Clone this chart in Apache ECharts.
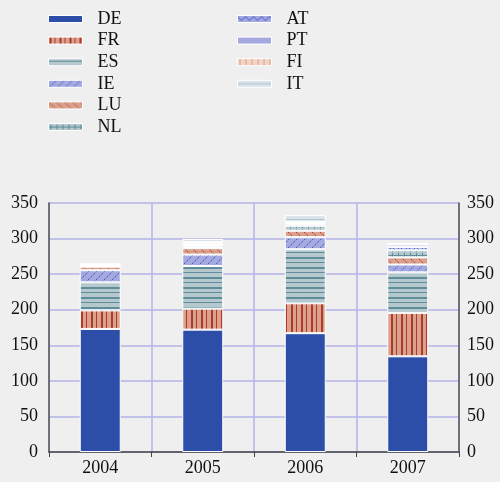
<!DOCTYPE html>
<html><head><meta charset="utf-8">
<script src="https://cdn.jsdelivr.net/npm/echarts@6/dist/echarts.min.js"></script>
<style>html,body{margin:0;padding:0;background:#efefef}#c{width:500px;height:482px}</style>
</head><body><div id="c"></div>
<script>
const categories = ['2004','2005','2006','2007'];
const seriesNames = ['DE','FR','ES','IE','LU','NL','AT','PT','FI','IT'];
const DE = [173, 172, 167, 134.5];
const FR = [26, 29.5, 42, 61];
const ES = [39.5, 60, 76, 57];
const IE = [17, 16, 17, 11];
const LU = [5, 9, 9, 10];
const NL = [1, 2, 7, 10];
const AT = [0.5, 2.5, 2, 4.5];
const PT = [0.5, 1.5, 1.5, 3.5];
const FI = [1.5, 2.5, 2, 1];
const IT = [0.5, 4.5, 9.5, 1];
const yTicks = [0, 350, 50];

function pat(w, h, bg, draw) {
  const c = document.createElement('canvas');
  c.width = w; c.height = h;
  const g = c.getContext('2d');
  g.fillStyle = bg; g.fillRect(0, 0, w, h);
  draw(g);
  return {image: c, repeat: 'repeat'};
}
const red = '#b3382c', teal = '#5f8e9a', blue = '#3a5bc4';
const patterns = {
  DE: '#2c4ea8',
  FR: pat(10, 10, '#d9a28d', g => { g.fillStyle = red; g.fillRect(1, 0, 2, 10); g.fillRect(6, 0, 1, 10); }),
  ES: pat(10, 10, '#b4c8cd', g => { g.fillStyle = teal; g.fillRect(0, 2, 10, 1); g.fillRect(0, 7, 10, 2); }),
  IE: pat(8, 8, '#a5a9e0', g => { g.fillStyle = blue; for (let i = 0; i < 8; i += 1.5) { g.fillRect(i, 7 - i, 1, 1); } }),
  LU: pat(8, 8, '#d9a08c', g => { g.fillStyle = red; for (let i = 0; i < 8; i += 1.5) { g.fillRect(i, i, 1, 1); } }),
  NL: pat(6, 6, '#b4c8cd', g => { g.fillStyle = teal; g.fillRect(0, 3, 6, 1); g.fillRect(2, 1, 1, 5); }),
  AT: pat(8, 6, '#a5a9e0', g => { g.strokeStyle = blue; g.lineWidth = 1; g.beginPath(); g.moveTo(0, 1); g.lineTo(4, 5); g.lineTo(8, 1); g.stroke(); }),
  PT: '#a5a9e0',
  FI: pat(6, 6, '#f2d3c4', g => { g.fillStyle = '#dca48e'; g.fillRect(2, 0, 1, 6); }),
  IT: pat(6, 6, '#dae3ea', g => { g.fillStyle = '#b2c6d2'; g.fillRect(0, 3, 6, 1); })
};
const values = {DE, FR, ES, IE, LU, NL, AT, PT, FI, IT};

const chart = echarts.init(document.getElementById('c'), null, {renderer: 'canvas'});
const font = '"Liberation Serif", "Times New Roman", serif';
const legendBase = {
  orient: 'vertical', itemWidth: 34, itemHeight: 7, itemGap: 3.6, padding: 0,
  icon: 'rect',
  textStyle: {fontFamily: font, fontSize: 18, color: '#111', padding: [0, 0, 0, 10], lineHeight: 16},
  itemStyle: {borderColor: '#fff', borderWidth: 1}
};
chart.setOption({
  backgroundColor: '#efefef',
  animation: false,
  legend: [
    Object.assign({}, legendBase, {left: 48, top: 10, data: seriesNames.slice(0, 6)}),
    Object.assign({}, legendBase, {left: 237, top: 10, data: seriesNames.slice(6)})
  ],
  grid: {left: 49, right: 41, top: 203, bottom: 30},
  xAxis: {
    type: 'category', data: categories, boundaryGap: true,
    axisLine: {lineStyle: {color: '#444', width: 1.5}},
    axisTick: {show: true, length: 5, inside: false, lineStyle: {color: '#444'}},
    axisLabel: {fontFamily: font, fontSize: 18, color: '#111', margin: 7},
    splitLine: {show: true, lineStyle: {color: '#b3b3e8', width: 1.5}}
  },
  yAxis: [
    {type: 'value', min: yTicks[0], max: yTicks[1], interval: yTicks[2],
     axisLine: {show: true, lineStyle: {color: '#555', width: 1.5}}, axisTick: {show: false},
     axisLabel: {fontFamily: font, fontSize: 18, color: '#111', margin: 11},
     splitLine: {lineStyle: {color: '#b3b3e8', width: 1.5}}},
    {type: 'value', min: yTicks[0], max: yTicks[1], interval: yTicks[2], position: 'right',
     axisLine: {show: true, lineStyle: {color: '#555', width: 1.5}}, axisTick: {show: false},
     axisLabel: {fontFamily: font, fontSize: 18, color: '#111', margin: 8},
     splitLine: {show: false}}
  ],
  series: seriesNames.map(n => ({
    name: n, type: 'bar', stack: 'total', barWidth: 41,
    data: values[n],
    itemStyle: {color: patterns[n], borderColor: '#fff', borderWidth: 1}
  }))
});
</script></body></html>
